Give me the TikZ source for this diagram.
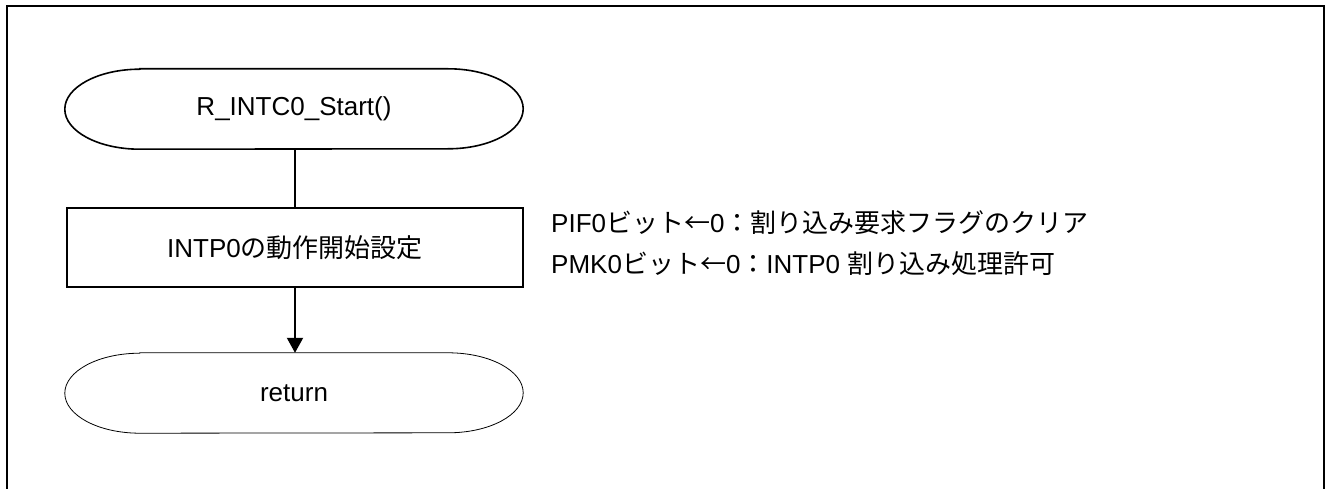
\documentclass[tikz,border=0pt]{standalone}
\usepackage{fontspec}
\setmainfont{Liberation Sans}
\newfontfamily\jp{Noto Sans CJK JP}
\usetikzlibrary{arrows.meta}
\begin{document}
\begin{tikzpicture}[x=1pt,y=-1pt,
  every node/.style={font=\fontsize{26}{30}\selectfont, inner sep=0pt},
  term/.style={minimum width=458pt, minimum height=80pt},
  proc/.style={draw, line width=1.6pt, minimum width=456pt, minimum height=79pt},
  note/.style={anchor=base west},
  flow/.style={line width=2pt},
  arr/.style={line width=2pt, -{Triangle[width=16pt,length=15pt]}}
]
\useasboundingbox (0,0) rectangle (1327,489);
% frame (open at bottom)
\draw[line width=2pt] (7,489) -- (7,6) -- (1324,6) -- (1324,489);

% start terminator
\node[term] (start) at (294,109) {R\_INTC0\_Start()};
\draw[line width=1.6pt] ([xshift=75pt]start.north west) -- ([xshift=-75pt]start.north east)
  arc[start angle=90,end angle=-90,x radius=75pt,y radius=40pt]
  -- ([xshift=75pt]start.south west)
  arc[start angle=270,end angle=90,x radius=75pt,y radius=40pt] -- cycle;

% process box
\node[proc] (box) at (295,247.5) {INTP0{\jp の動作開始設定}};

% return terminator
\node[term] (ret) at (294,393) {return};
\draw[line width=0.8pt] ([xshift=75pt]ret.north west) -- ([xshift=-75pt]ret.north east)
  arc[start angle=90,end angle=-90,x radius=75pt,y radius=40pt]
  -- ([xshift=75pt]ret.south west)
  arc[start angle=270,end angle=90,x radius=75pt,y radius=40pt] -- cycle;

% connectors
\draw[flow] (start.south -| box.north) -- (box.north);
\draw[arr] (box.south) -- (box.south |- ret.north);

% notes
\node[note] (n1) at (551,232) {PIF0{\jp ビット←}0{\jp ：割り込み要求フラグのクリア}};
\node[note] (n2) at (551,273) {PMK0{\jp ビット←}0{\jp ：}INTP0 {\jp 割り込み処理許可}};
\end{tikzpicture}
\end{document}
